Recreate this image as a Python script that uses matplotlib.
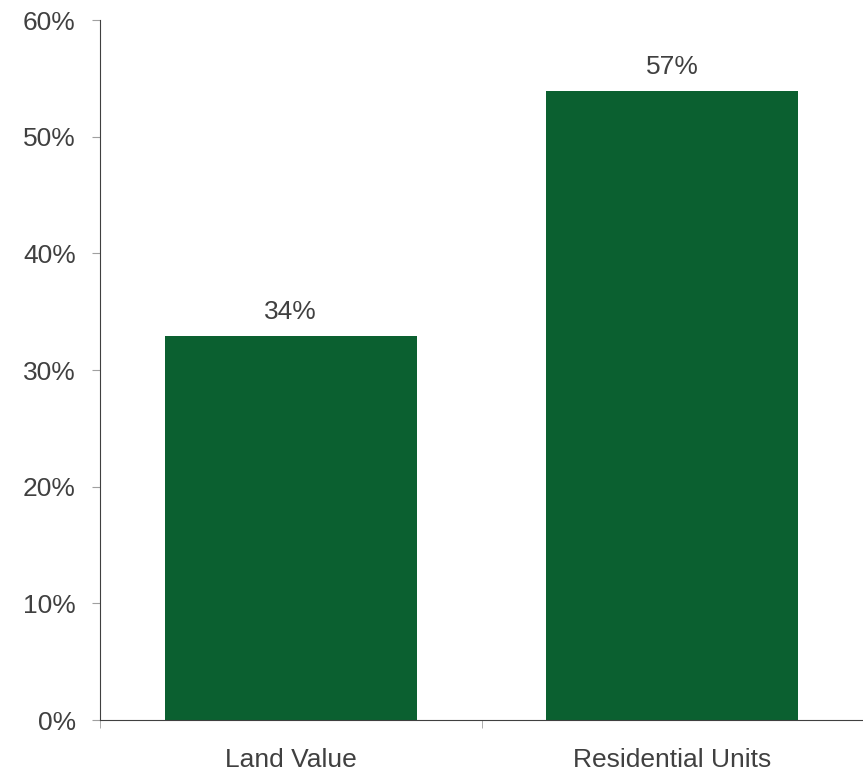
import matplotlib.pyplot as plt
import numpy as np

categories = ['Land Value', 'Residential Units']
bar_values = [32.9, 53.9]          # bar heights as drawn, in %
bar_labels = ['34%', '57%']        # labels printed above bars
y_ticks = [0, 10, 20, 30, 40, 50, 60]

plt.rcParams['font.family'] = ['Liberation Sans', 'DejaVu Sans']
text_color = '#404040'
bar_color = '#0b6030'

fig = plt.figure(figsize=(8.63, 7.73), dpi=100)
ax = fig.add_axes([100 / 863, 53 / 773, 763 / 863, 700 / 773])

x = np.arange(len(categories))
bars = ax.bar(x, bar_values, width=0.66, color=bar_color, zorder=2)

for b, lab in zip(bars, bar_labels):
    ax.annotate(lab, (b.get_x() + b.get_width() / 2, b.get_height()),
                xytext=(0, 8.5), textcoords='offset points',
                ha='center', va='bottom', fontsize=19, color=text_color)

ax.set_xlim(-0.5, len(categories) - 0.5)
ax.set_ylim(0, 60)
ax.set_yticks(y_ticks)
ax.set_yticklabels(['%d%%' % v for v in y_ticks])

# category labels sit between the boundary ticks
ax.set_xticks(x)
ax.set_xticklabels(categories)
ax.set_xticks(np.arange(-0.5, len(categories), 1.0), minor=True)
ax.tick_params(axis='x', which='major', length=0, pad=20, labelsize=19,
               labelcolor=text_color)
ax.tick_params(axis='x', which='minor', length=6, color='#a0a0a0', direction='out')
ax.tick_params(axis='y', length=6, color='#a0a0a0', direction='out', pad=11.5,
               labelsize=19, labelcolor=text_color)

for s in ['top', 'right']:
    ax.spines[s].set_visible(False)
ax.spines['left'].set_color('#404040')
ax.spines['bottom'].set_color('#404040')

fig.savefig('out.png', dpi=100)
